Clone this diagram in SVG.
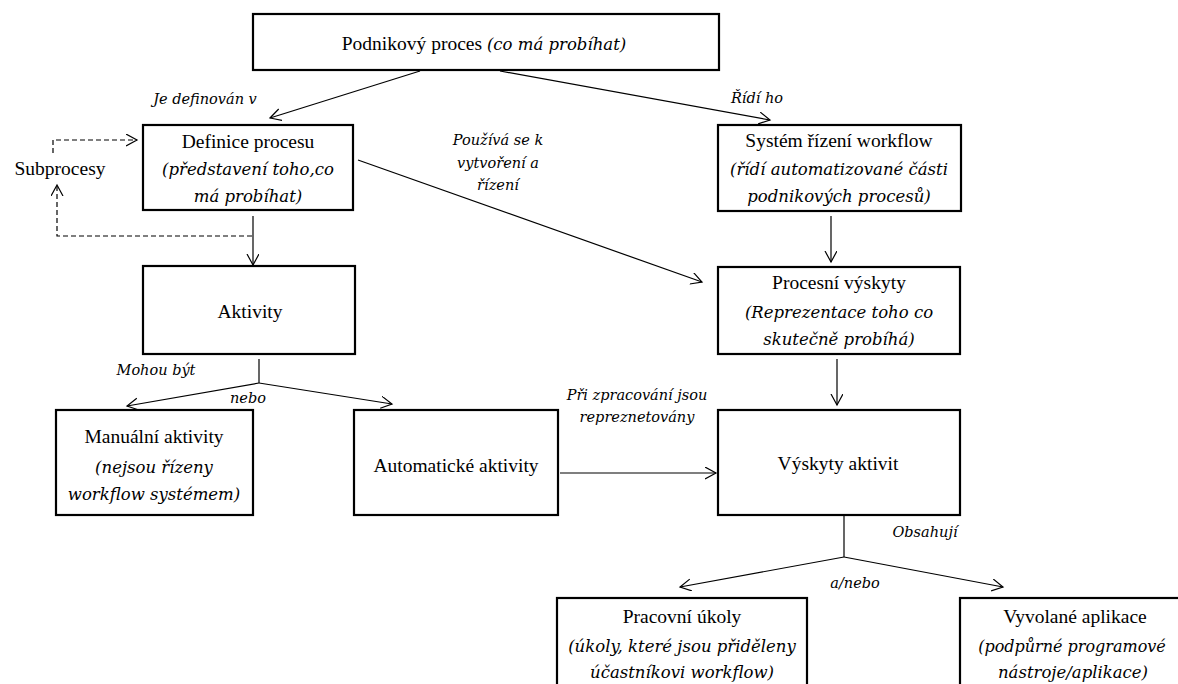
<svg xmlns="http://www.w3.org/2000/svg" width="1178" height="684" viewBox="0 0 1178 684">
<style>
.box{fill:#fff;stroke:#000;stroke-width:2.2}
.t{font-family:"Liberation Serif","Times New Roman",serif;font-size:19.5px;fill:#000;text-anchor:middle}
.i{font-family:"DejaVu Serif",serif;font-style:italic;font-size:16.5px;fill:#000;text-anchor:middle}
.l{font-family:"DejaVu Serif",serif;font-style:italic;font-size:14.5px;fill:#000;text-anchor:middle}
.c{fill:none;stroke:#000;stroke-width:1.2}
.d{fill:none;stroke:#000;stroke-width:1.2;stroke-dasharray:5 3}
</style>
<defs>
<marker id="a" markerWidth="14" markerHeight="14" refX="11" refY="6" orient="auto" markerUnits="userSpaceOnUse">
<path d="M0,0 L11,6 L0,12" fill="none" stroke="#000" stroke-width="1.2"/>
</marker>
</defs>
<rect width="1178" height="684" fill="#fff"/>
<g id="connectors">
<line class="c" x1="420" y1="71" x2="270" y2="118" marker-end="url(#a)"/>
<line class="c" x1="500" y1="71" x2="770" y2="120" marker-end="url(#a)"/>
<line class="c" x1="253" y1="216" x2="253" y2="265" marker-end="url(#a)"/>
<line class="c" x1="358" y1="160" x2="702" y2="282" marker-end="url(#a)"/>
<line class="c" x1="831" y1="216" x2="831" y2="262" marker-end="url(#a)"/>
<line class="c" x1="837" y1="359" x2="837" y2="405" marker-end="url(#a)"/>
<line class="c" x1="560" y1="473" x2="716" y2="473" marker-end="url(#a)"/>
<line class="c" x1="259" y1="359" x2="259" y2="383"/>
<line class="c" x1="259" y1="383" x2="127" y2="406" marker-end="url(#a)"/>
<line class="c" x1="259" y1="383" x2="392" y2="404" marker-end="url(#a)"/>
<line class="c" x1="844" y1="515" x2="844" y2="557"/>
<line class="c" x1="844" y1="557" x2="680" y2="587" marker-end="url(#a)"/>
<line class="c" x1="844" y1="557" x2="1003" y2="587" marker-end="url(#a)"/>
<polyline class="d" points="252,236 57,236 57,185" marker-end="url(#a)"/>
<polyline class="d" points="53,153 53,140 137,140" marker-end="url(#a)"/>
<text class="l" x="205" y="104">Je definován v</text>
<text class="l" x="757" y="103">Řídí ho</text>
<text class="l" x="498" y="145">Používá se k</text>
<text class="l" x="498" y="168">vytvoření a</text>
<text class="l" x="498" y="190">řízení</text>
<text class="l" x="156" y="375">Mohou být</text>
<text class="l" x="248" y="403">nebo</text>
<text class="l" x="637" y="400">Při zpracování jsou</text>
<text class="l" x="637" y="422">repreznetovány</text>
<text class="l" x="925" y="537">Obsahují</text>
<text class="l" x="855" y="588">a/nebo</text>
</g>
<g id="podnikovy">
<rect class="box" x="253" y="14" width="466" height="56"/>
<text class="t" x="484" y="50">Podnikový proces <tspan style="font-family:'DejaVu Serif',serif;font-style:italic;font-size:16.5px">(co má probíhat)</tspan></text>
</g>
<g id="subprocesy">
<text class="t" x="60" y="175">Subprocesy</text>
</g>
<g id="definice">
<rect class="box" x="143" y="125" width="210" height="85"/>
<text class="t" x="248" y="148">Definice procesu</text>
<text class="i" x="248" y="175">(představení toho,co</text>
<text class="i" x="248" y="202">má probíhat)</text>
</g>
<g id="system">
<rect class="box" x="718" y="125" width="243" height="86"/>
<text class="t" x="839" y="147">Systém řízení workflow</text>
<text class="i" x="839" y="175">(řídí automatizované části</text>
<text class="i" x="839" y="202">podnikových procesů)</text>
</g>
<g id="aktivity">
<rect class="box" x="143" y="266" width="212" height="88"/>
<text class="t" x="250" y="318">Aktivity</text>
</g>
<g id="procesni">
<rect class="box" x="718" y="267" width="242" height="87"/>
<text class="t" x="839" y="289">Procesní výskyty</text>
<text class="i" x="839" y="318">(Reprezentace toho co</text>
<text class="i" x="839" y="345">skutečně probíhá)</text>
</g>
<g id="manualni">
<rect class="box" x="56" y="410" width="197" height="105"/>
<text class="t" x="154" y="443">Manuální aktivity</text>
<text class="i" x="154" y="473">(nejsou řízeny</text>
<text class="i" x="154" y="500">workflow systémem)</text>
</g>
<g id="automaticke">
<rect class="box" x="354" y="410" width="204" height="105"/>
<text class="t" x="456" y="472">Automatické aktivity</text>
</g>
<g id="vyskyty">
<rect class="box" x="718" y="410" width="242" height="105"/>
<text class="t" x="838" y="470">Výskyty aktivit</text>
</g>
<g id="pracovni">
<rect class="box" x="557" y="598" width="250" height="100"/>
<text class="t" x="682" y="623">Pracovní úkoly</text>
<text class="i" x="682" y="652">(úkoly, které jsou přiděleny</text>
<text class="i" x="682" y="678">účastníkovi workflow)</text>
</g>
<g id="vyvolane">
<rect class="box" x="960" y="598" width="240" height="100"/>
<text class="t" x="1075" y="623">Vyvolané aplikace</text>
<text class="i" x="1072" y="652" style="font-size:16px">(podpůrné programové</text>
<text class="i" x="1073" y="678">nástroje/aplikace)</text>
</g>
</svg>
